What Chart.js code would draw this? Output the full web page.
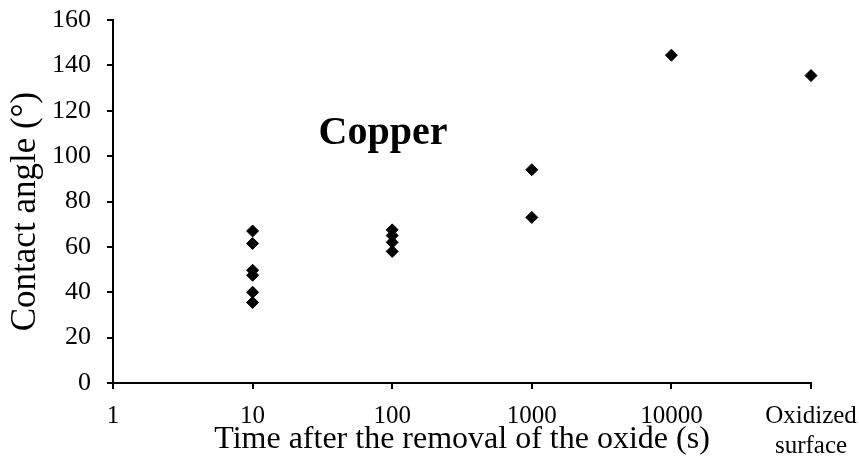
<!DOCTYPE html>
<html>
<head>
<meta charset="utf-8">
<title>Copper contact angle</title>
<script src="https://cdn.jsdelivr.net/npm/chart.js@4/dist/chart.umd.min.js"></script>
<style>
  html, body { margin: 0; padding: 0; background: #fff; }
  #wrap { width: 859px; height: 459px; }
</style>
</head>
<body>
<div id="wrap"><canvas id="angleChart"></canvas></div>
<script>
'use strict';

// x position of each group (s); the last slot holds the oxidized surface
const groupTimes = [10, 100, 1000, 10000, 100000];
// measured contact angles (°) per group
const groupAngles = [
  [67, 61.5, 49.7, 47.5, 40, 35.5],
  [67.5, 65, 62, 58],
  [94, 73],
  [144.5],
  [135.5],
];
const xTickValues = [1, 10, 100, 1000, 10000, 100000];
const xTickLabels = ['1', '10', '100', '1000', '10000', ['Oxidized', 'surface']];
const yTickValues = [0, 20, 40, 60, 80, 100, 120, 140, 160];

const SERIF = "'Liberation Serif', 'Times New Roman', serif";

const points = groupTimes.flatMap((t, i) => groupAngles[i].map(a => ({ x: t, y: a })));

// ─── Caption and y-axis title ─────────────────────────────────────────────────

const textPlugin = {
  id: 'labels',
  afterDatasetsDraw(chart) {
    const { ctx, chartArea, scales: { x, y } } = chart;
    ctx.save();
    ctx.fillStyle = '#000';

    ctx.font = `bold 40px ${SERIF}`;
    ctx.textAlign = 'center';
    ctx.textBaseline = 'alphabetic';
    ctx.fillText('Copper', x.getPixelForValue(86), y.getPixelForValue(105.3));

    // vertical title, sitting a little below the middle of the axis
    ctx.translate(y.left + 18, (chartArea.top + chartArea.bottom) / 2 + 10);
    ctx.rotate(-Math.PI / 2);
    ctx.font = `35px ${SERIF}`;
    ctx.textBaseline = 'middle';
    ctx.fillText('Contact angle (°)', 0, 0);
    ctx.restore();
  },
};

new Chart(document.getElementById('angleChart'), {
  type: 'scatter',
  data: {
    datasets: [{
      data: points,
      pointStyle: 'rectRot',
      pointRadius: 6,
      pointHoverRadius: 6,
      backgroundColor: '#000',
      borderColor: '#000',
      borderWidth: 1,
      clip: false,
    }],
  },
  options: {
    responsive: true,
    maintainAspectRatio: false,
    animation: false,
    events: [],
    layout: { padding: { top: 20, right: 48, bottom: 0, left: 8 } },
    plugins: {
      legend: { display: false },
      tooltip: { enabled: false },
    },
    scales: {
      x: {
        type: 'logarithmic',
        min: 1,
        max: 100000,
        afterBuildTicks: (scale) => { scale.ticks = xTickValues.map(v => ({ value: v })); },
        // fixed band under the plot; labels may hang past the ends
        afterFit: (scale) => {
          scale.height = 76;
          scale.paddingLeft = 0;
          scale.paddingRight = 0;
        },
        border: { color: '#000', width: 2 },
        grid: { drawOnChartArea: false, drawTicks: true, tickLength: 6, color: '#000', lineWidth: 2 },
        ticks: {
          autoSkip: false,
          maxRotation: 0,
          padding: 12,
          color: '#000',
          font: { family: SERIF, size: 25, lineHeight: 1.2 },
          callback: (value, index) => xTickLabels[index],
        },
        title: {
          display: true,
          text: 'Time after the removal of the oxide (s)',
          color: '#000',
          font: { family: SERIF, size: 32, lineHeight: 1.2 },
          padding: { top: 0, bottom: 0 },
        },
      },
      y: {
        min: 0,
        max: 160,
        afterBuildTicks: (scale) => { scale.ticks = yTickValues.map(v => ({ value: v })); },
        // room on the left is kept for the title drawn by textPlugin
        afterFit: (scale) => {
          scale.width = 105;
          scale.paddingTop = 0;
          scale.paddingBottom = 0;
        },
        border: { color: '#000', width: 2 },
        grid: { drawOnChartArea: false, drawTicks: true, tickLength: 6, color: '#000', lineWidth: 2 },
        ticks: {
          padding: 16,
          color: '#000',
          font: { family: SERIF, size: 26 },
        },
        title: { display: false },
      },
    },
  },
  plugins: [textPlugin],
});
</script>
</body>
</html>
